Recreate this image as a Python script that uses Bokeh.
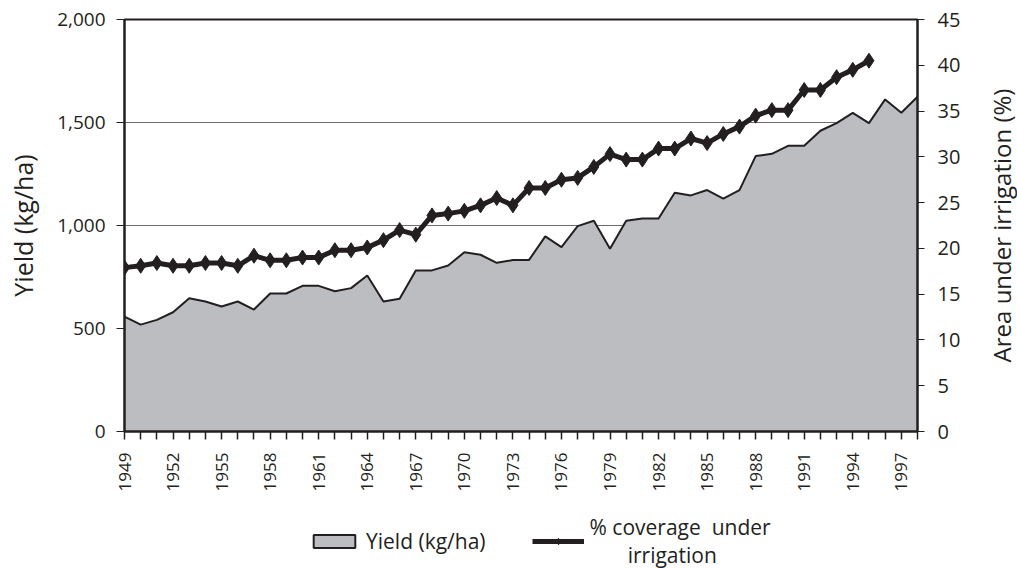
import math
from bokeh.plotting import figure
from bokeh.layouts import column, row
from bokeh.models import (Range1d, LinearAxis, FixedTicker, NumeralTickFormatter,
                          Legend, LegendItem, Label)
from bokeh.embed import file_html
from bokeh.resources import INLINE

years = list(range(1949, 1999))
yield_kg_ha = [558, 519, 542, 579, 647, 631, 607, 631, 592, 670,
               670, 707, 707, 681, 696, 757, 631, 644, 782, 782,
               806, 870, 858, 819, 832, 833, 947, 895, 997, 1023,
               887, 1023, 1034, 1034, 1159, 1146, 1172, 1131, 1172, 1337,
               1348, 1387, 1387, 1460, 1497, 1547, 1497, 1612, 1547, 1625]
irr_years = list(range(1949, 1996))
irrigation_pct = [17.9, 18.1, 18.4, 18.1, 18.1, 18.4, 18.4, 18.1, 19.2, 18.7,
                  18.7, 19.0, 19.0, 19.8, 19.8, 20.1, 20.9, 22.0, 21.5, 23.6,
                  23.8, 24.1, 24.7, 25.5, 24.7, 26.6, 26.6, 27.5, 27.7, 28.9,
                  30.3, 29.7, 29.7, 30.9, 30.9, 32.0, 31.5, 32.5, 33.3, 34.5,
                  35.1, 35.1, 37.3, 37.3, 38.7, 39.5, 40.5]
left_ticks = [0, 500, 1000, 1500, 2000]
right_ticks = [0, 5, 10, 15, 20, 25, 30, 35, 40, 45]
label_years = list(range(1949, 1999, 3))
left_title = "Yield (kg/ha)"
right_title = "Area under irrigation (%)"

FONT = "Open Sans"
INK = "#231F20"
AREA = "#BCBDC1"

# ---------------- main plot ----------------
p = figure(width=981, height=500, output_backend="svg", toolbar_location=None,
           x_range=Range1d(1949, 1998), y_range=Range1d(0, 2000),
           min_border_left=124, min_border_right=64, min_border_top=19,
           min_border_bottom=69, background_fill_color="white",
           border_fill_color="white")
p.extra_y_ranges = {"right": Range1d(0, 45)}

p.outline_line_color = INK
p.outline_line_width = 2
p.xgrid.visible = False
p.ygrid.grid_line_color = "#6d6d6d"
p.ygrid.grid_line_width = 1.2
p.ygrid.ticker = FixedTicker(ticks=left_ticks)

xs = [years[0]] + years + [years[-1]]
ys = [0] + yield_kg_ha + [0]
p.patch(xs, ys, fill_color=AREA, line_color=INK, line_width=2)

p.line(irr_years, irrigation_pct, line_color=INK, line_width=5, y_range_name="right")
p.scatter(irr_years, irrigation_pct, marker="diamond", size=15, fill_color=INK,
          line_color=INK, y_range_name="right")

xa = p.xaxis[0]
xa.ticker = FixedTicker(ticks=years)
xa.major_label_overrides = {y: (str(y) if y in label_years else "") for y in years}
xa.major_label_orientation = math.pi / 2
xa.major_tick_out = 8
xa.major_tick_in = 0
xa.minor_tick_line_color = None
xa.axis_line_width = 2
xa.axis_line_color = INK
xa.major_tick_line_color = INK
xa.major_tick_line_width = 1.5
xa.major_label_text_font = FONT
xa.major_label_text_font_size = "17px"
xa.major_label_text_color = INK
xa.major_label_standoff = 13

ya = p.yaxis[0]
ya.ticker = FixedTicker(ticks=left_ticks)
ya.formatter = NumeralTickFormatter(format="0,0")
ya.axis_label = left_title
ya.axis_label_text_font = FONT
ya.axis_label_text_font_size = "25px"
ya.axis_label_text_font_style = "normal"
ya.axis_label_text_color = INK
ya.axis_label_standoff = 14
ya.major_label_text_font = FONT
ya.major_label_text_font_size = "19px"
ya.major_label_text_color = INK
ya.major_tick_out = 8
ya.major_tick_in = 0
ya.minor_tick_line_color = None
ya.axis_line_width = 2
ya.axis_line_color = INK
ya.major_tick_line_color = INK
ya.major_label_standoff = 11

ra = LinearAxis(y_range_name="right", ticker=FixedTicker(ticks=right_ticks))
ra.major_label_text_font = FONT
ra.major_label_text_font_size = "20px"
ra.major_label_text_color = INK
ra.major_tick_out = 7
ra.major_tick_in = 0
ra.minor_tick_line_color = None
ra.axis_line_width = 2
ra.axis_line_color = INK
ra.major_tick_line_color = INK
ra.major_label_standoff = 13
p.add_layout(ra, "right")

# ---------------- right title strip ----------------
tf = figure(width=36, height=500, output_backend="svg", toolbar_location=None,
            x_range=Range1d(0, 1), y_range=Range1d(0, 1),
            x_axis_location=None, y_axis_location=None,
            min_border_left=0, min_border_right=0, min_border_top=19,
            min_border_bottom=69, outline_line_color=None,
            background_fill_color="white", border_fill_color="white")
tf.grid.visible = False
tf.add_layout(Label(x=0.55, y=0.5, text=right_title, angle=math.pi / 2,
                    text_align="center", text_baseline="middle",
                    text_font=FONT, text_font_size="24px", text_color=INK))

# ---------------- legend strip ----------------
lg = figure(width=1017, height=69, output_backend="svg", toolbar_location=None,
            x_range=Range1d(0, 1), y_range=Range1d(0, 1),
            x_axis_location=None, y_axis_location=None,
            min_border_left=124, min_border_right=0, min_border_top=0,
            min_border_bottom=0, outline_line_color=None,
            background_fill_color="white", border_fill_color="white")
lg.grid.visible = False
r_area = lg.patch(xs, ys, fill_color=AREA, line_color=INK, line_width=2, visible=False)
r_line = lg.line(irr_years, irrigation_pct, line_color=INK, line_width=5, visible=False)
r_mk = lg.scatter(irr_years, irrigation_pct, marker="diamond", size=11, fill_color=INK,
                  line_color=INK, visible=False)

legend = Legend(items=[
    LegendItem(label="Yield (kg/ha)", renderers=[r_area]),
    LegendItem(label="% coverage\u00a0\u00a0under\n\u00a0\u00a0\u00a0\u00a0\u00a0\u00a0\u00a0irrigation",
               renderers=[r_line, r_mk]),
], orientation="horizontal", location=(184, 0))
legend.label_text_font = FONT
legend.label_text_font_size = "21px"
legend.label_text_line_height = 1.0
legend.label_text_color = INK
legend.border_line_color = None
legend.background_fill_alpha = 0
legend.inactive_fill_alpha = 0
legend.glyph_width = 52
legend.glyph_height = 16
legend.spacing = 46
legend.margin = 0
legend.padding = 0
legend.label_standoff = 6
lg.add_layout(legend, "center")

layout = column(row(p, tf, spacing=0), lg, spacing=0)
open("out.html", "w").write(file_html(layout, INLINE))
